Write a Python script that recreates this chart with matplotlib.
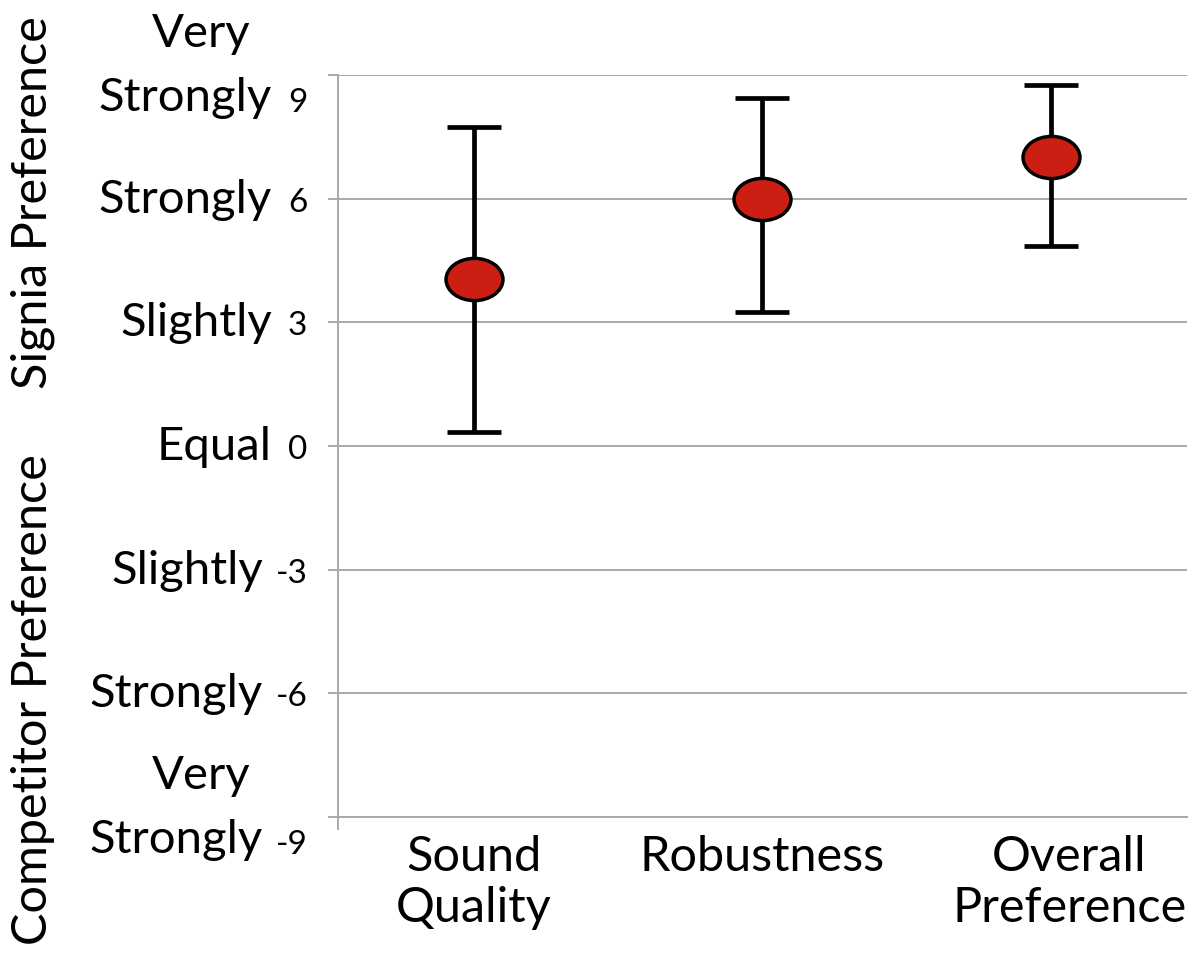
import matplotlib
matplotlib.use("Agg")
import matplotlib.pyplot as plt
from matplotlib.path import Path
from matplotlib.transforms import Affine2D, ScaledTranslation, blended_transform_factory
import numpy as np

categories = ["Sound\nQuality", "Robustness", "Overall\nPreference"]
means = [4.05, 6.0, 7.0]
upper = [7.75, 8.45, 8.75]
lower = [0.35, 3.25, 4.85]
ytick_values = [9, 6, 3, 0, -3, -6, -9]
ytick_words = ["Strongly", "Strongly", "Slightly", "Equal", "Slightly", "Strongly", "Strongly"]
ytick_prefix = ["Very", "", "", "", "", "", "Very"]

plt.rcParams['font.family'] = ['Lato', 'DejaVu Sans']

fig = plt.figure(figsize=(11.98, 9.54), dpi=100)
ax = fig.add_axes([338/1198, 1-818/954, (1187-338)/1198, (818-76)/954])

x = np.arange(len(categories))
means_a = np.array(means)
yerr = np.array([means_a - np.array(lower), np.array(upper) - means_a])

ell = Path.unit_circle().transformed(Affine2D().scale(1.35, 1.0))
ax.errorbar(x, means, yerr=yerr, fmt='none', ecolor='black', elinewidth=3.4,
            capsize=19.5, capthick=3.4, zorder=3)
ax.plot(x, means, linestyle='none', marker=ell, markersize=41,
        markerfacecolor='#CC1E12', markeredgecolor='black', markeredgewidth=2.5, zorder=4)

ax.set_xlim(-0.47, 2.47)
ax.set_ylim(-9, 9)
ax.set_yticks(ytick_values)
ax.set_yticklabels([str(v) for v in ytick_values], fontsize=24)
ax.yaxis.grid(True, color='#A8A8A8', linewidth=1.4)
ax.set_axisbelow(True)
ax.tick_params(axis='y', length=7, width=1.4, color='#A8A8A8', pad=15)
for s in ['top', 'right']:
    ax.spines[s].set_visible(False)
for s in ['left', 'bottom']:
    ax.spines[s].set_color('#A8A8A8')
    ax.spines[s].set_linewidth(1.4)

ax.set_xticks(x)
ax.set_xticklabels(categories, fontsize=35, linespacing=1.2)
ax.tick_params(axis='x', length=0, pad=12)
ax.set_xticks([-0.47], minor=True)
ax.tick_params(axis='x', which='minor', length=9, width=1.4, color='#A8A8A8')
lbls = ax.get_xticklabels()
lbls[2].set_transform(lbls[2].get_transform() + ScaledTranslation(18/100, 0, fig.dpi_scale_trans))

trans = blended_transform_factory(ax.transAxes, ax.transData)
for v, w, p in zip(ytick_values, ytick_words, ytick_prefix):
    xoff = -66/100 if v >= 0 else -75/100
    if p:
        dy = -22/100
        t = trans + ScaledTranslation(xoff, dy, fig.dpi_scale_trans)
        ax.text(0, v, w, transform=t, ha='right', va='center', fontsize=34)
        t2 = trans + ScaledTranslation(-137/100, 42/100, fig.dpi_scale_trans)
        ax.text(0, v, p, transform=t2, ha='center', va='center', fontsize=34)
    else:
        t = trans + ScaledTranslation(xoff, 0, fig.dpi_scale_trans)
        ax.text(0, v, w, transform=t, ha='right', va='center', fontsize=34)

ylabs = ax.get_yticklabels()
for lab, p in zip(ylabs, ytick_prefix):
    if p:
        lab.set_transform(lab.get_transform() + ScaledTranslation(0, -24/100, fig.dpi_scale_trans))

fig.text(33/1198, 1-203/954, "Signia Preference", rotation=90, ha='center', va='center', fontsize=35)
fig.text(33/1198, 1-700/954, "Competitor Preference", rotation=90, ha='center', va='center', fontsize=35)

fig.savefig("out.png", dpi=100)
